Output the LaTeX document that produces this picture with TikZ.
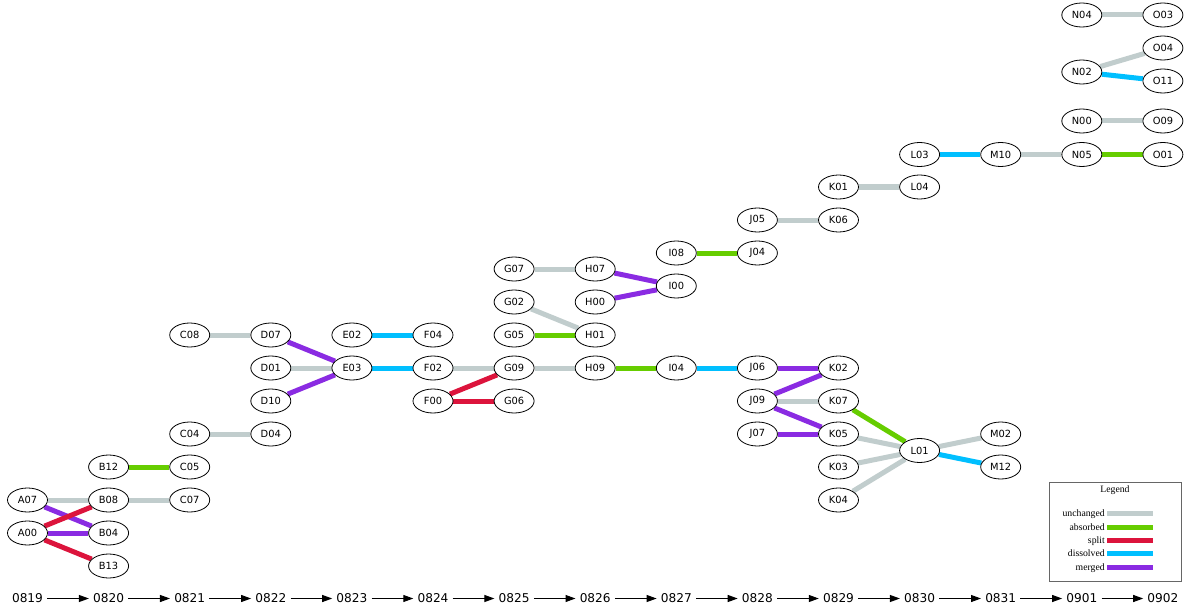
\documentclass[tikz,border=0pt]{standalone}
\usepackage{fontspec}
\setmainfont{DejaVu Sans}
\newfontfamily\legendfont{Liberation Serif}
\usepackage{tikz}
\usetikzlibrary{shapes.geometric}
\usetikzlibrary{arrows.meta}
\pgfdeclarelayer{nodelayer}
\pgfdeclarelayer{edgelayer}
\pgfsetlayers{edgelayer,nodelayer,main}
\definecolor{unchgray}{HTML}{C1CDCD}
\definecolor{absgreen}{HTML}{66CD00}
\definecolor{splitred}{HTML}{DC143C}
\definecolor{dissblue}{HTML}{00BFFF}
\definecolor{mergviolet}{HTML}{8A2BE2}
\tikzstyle{cluster}=[shape=ellipse, draw, fill=white, line width=0.6pt, inner sep=0pt, minimum width=30pt, minimum height=18pt, font=\fontsize{7.4}{8}\selectfont]
\tikzstyle{day}=[inner sep=3pt, font=\fontsize{9.1}{10}\selectfont]
\tikzstyle{keep}=[draw=unchgray, line width=3.75pt]
\tikzstyle{absorb}=[draw=absgreen, line width=3.75pt]
\tikzstyle{splitup}=[draw=splitred, line width=3.75pt]
\tikzstyle{dissolve}=[draw=dissblue, line width=3.75pt]
\tikzstyle{merge}=[draw=mergviolet, line width=3.75pt]
\tikzstyle{tick}=[line width=0.75pt, -{Triangle[length=7.5pt,width=5.25pt]}]
\tikzset{legendtext/.style={inner sep=0pt, anchor=base east, font=\legendfont\fontsize{7.3}{8}\selectfont}}

\begin{document}
\begin{tikzpicture}[x=0.75pt, y=-0.75pt]
	\useasboundingbox (0,0) rectangle (1188,613);
	\begin{pgfonlayer}{nodelayer}
		\node [style=cluster] (A07) at (27.5, 500) {A07};
		\node [style=cluster] (A00) at (27.5, 533) {A00};
		\node [style=cluster] (B12) at (108.6, 467) {B12};
		\node [style=cluster] (B08) at (108.6, 500) {B08};
		\node [style=cluster] (B04) at (108.6, 533) {B04};
		\node [style=cluster] (B13) at (108.6, 566) {B13};
		\node [style=cluster] (C08) at (189.7, 335) {C08};
		\node [style=cluster] (C04) at (189.7, 434) {C04};
		\node [style=cluster] (C05) at (189.7, 467) {C05};
		\node [style=cluster] (C07) at (189.7, 500) {C07};
		\node [style=cluster] (D07) at (270.8, 335) {D07};
		\node [style=cluster] (D01) at (270.8, 368) {D01};
		\node [style=cluster] (D10) at (270.8, 401) {D10};
		\node [style=cluster] (D04) at (270.8, 434) {D04};
		\node [style=cluster] (E02) at (351.9, 335) {E02};
		\node [style=cluster] (E03) at (351.9, 368) {E03};
		\node [style=cluster] (F04) at (433, 335) {F04};
		\node [style=cluster] (F02) at (433, 368) {F02};
		\node [style=cluster] (F00) at (433, 401) {F00};
		\node [style=cluster] (G07) at (514.1, 269) {G07};
		\node [style=cluster] (G02) at (514.1, 302) {G02};
		\node [style=cluster] (G05) at (514.1, 335) {G05};
		\node [style=cluster] (G09) at (514.1, 368) {G09};
		\node [style=cluster] (G06) at (514.1, 401) {G06};
		\node [style=cluster] (H07) at (595.2, 269) {H07};
		\node [style=cluster] (H00) at (595.2, 302) {H00};
		\node [style=cluster] (H01) at (595.2, 335) {H01};
		\node [style=cluster] (H09) at (595.2, 368) {H09};
		\node [style=cluster] (I08) at (676.3, 253) {I08};
		\node [style=cluster] (I00) at (676.3, 286) {I00};
		\node [style=cluster] (I04) at (676.3, 368) {I04};
		\node [style=cluster] (J05) at (757.4, 220) {J05};
		\node [style=cluster] (J04) at (757.4, 253) {J04};
		\node [style=cluster] (J06) at (757.4, 368) {J06};
		\node [style=cluster] (J09) at (757.4, 401) {J09};
		\node [style=cluster] (J07) at (757.4, 434) {J07};
		\node [style=cluster] (K01) at (838.5, 187) {K01};
		\node [style=cluster] (K06) at (838.5, 220) {K06};
		\node [style=cluster] (K02) at (838.5, 368) {K02};
		\node [style=cluster] (K07) at (838.5, 401) {K07};
		\node [style=cluster] (K05) at (838.5, 434) {K05};
		\node [style=cluster] (K03) at (838.5, 467) {K03};
		\node [style=cluster] (K04) at (838.5, 500) {K04};
		\node [style=cluster] (L03) at (919.6, 154.5) {L03};
		\node [style=cluster] (L04) at (919.6, 187) {L04};
		\node [style=cluster] (L01) at (919.6, 450.5) {L01};
		\node [style=cluster] (M10) at (1000.7, 154.5) {M10};
		\node [style=cluster] (M02) at (1000.7, 434) {M02};
		\node [style=cluster] (M12) at (1000.7, 467) {M12};
		\node [style=cluster] (N04) at (1081.8, 15) {N04};
		\node [style=cluster] (N02) at (1081.8, 72) {N02};
		\node [style=cluster] (N00) at (1081.8, 121) {N00};
		\node [style=cluster] (N05) at (1081.8, 154.5) {N05};
		\node [style=cluster] (O03) at (1162.9, 15) {O03};
		\node [style=cluster] (O04) at (1162.9, 48) {O04};
		\node [style=cluster] (O11) at (1162.9, 81) {O11};
		\node [style=cluster] (O09) at (1162.9, 121) {O09};
		\node [style=cluster] (O01) at (1162.9, 154.5) {O01};
		% time axis
		\node [style=day] (t0) at (27.5, 598.5) {0819};
		\node [style=day] (t1) at (108.6, 598.5) {0820};
		\node [style=day] (t2) at (189.7, 598.5) {0821};
		\node [style=day] (t3) at (270.8, 598.5) {0822};
		\node [style=day] (t4) at (351.9, 598.5) {0823};
		\node [style=day] (t5) at (433, 598.5) {0824};
		\node [style=day] (t6) at (514.1, 598.5) {0825};
		\node [style=day] (t7) at (595.2, 598.5) {0826};
		\node [style=day] (t8) at (676.3, 598.5) {0827};
		\node [style=day] (t9) at (757.4, 598.5) {0828};
		\node [style=day] (t10) at (838.5, 598.5) {0829};
		\node [style=day] (t11) at (919.6, 598.5) {0830};
		\node [style=day] (t12) at (1000.7, 598.5) {0831};
		\node [style=day] (t13) at (1081.8, 598.5) {0901};
		\node [style=day] (t14) at (1162.9, 598.5) {0902};
		% legend
		\node [draw=black!60, line width=0.75pt, minimum width=99pt, minimum height=74.25pt, inner sep=0pt] (legend) at (1115, 531.5) {};
		\node [font=\legendfont\fontsize{7.3}{8}\selectfont, inner sep=0pt] (legtitle) at (1115, 490.5) {Legend};
		\node [style=legendtext] (lg0) at (1105, 516) {unchanged};
		\node [style=legendtext] (lg1) at (1105, 530) {absorbed};
		\node [style=legendtext] (lg2) at (1105, 543.5) {split};
		\node [style=legendtext] (lg3) at (1105, 556.5) {dissolved};
		\node [style=legendtext] (lg4) at (1105, 570) {merged};
		\coordinate (sw0) at (1153, 513);
		\coordinate (sw1) at (1153, 527);
		\coordinate (sw2) at (1153, 540.5);
		\coordinate (sw3) at (1153, 553.5);
		\coordinate (sw4) at (1153, 567);
	\end{pgfonlayer}
	\begin{pgfonlayer}{edgelayer}
		\draw [style=keep] (A07) to (B08);
		\draw [style=merge] (A07) to (B04);
		\draw [style=splitup] (A00) to (B08);
		\draw [style=merge] (A00) to (B04);
		\draw [style=splitup] (A00) to (B13);
		\draw [style=keep] (B08) to (C07);
		\draw [style=absorb] (B12) to (C05);
		\draw [style=keep] (C04) to (D04);
		\draw [style=keep] (C08) to (D07);
		\draw [style=merge] (D07) to (E03);
		\draw [style=keep] (D01) to (E03);
		\draw [style=merge] (D10) to (E03);
		\draw [style=dissolve] (E02) to (F04);
		\draw [style=dissolve] (E03) to (F02);
		\draw [style=keep] (F02) to (G09);
		\draw [style=splitup] (F00) to (G09);
		\draw [style=splitup] (F00) to (G06);
		\draw [style=keep] (G07) to (H07);
		\draw [style=keep] (G02) to (H01);
		\draw [style=absorb] (G05) to (H01);
		\draw [style=keep] (G09) to (H09);
		\draw [style=merge] (H07) to (I00);
		\draw [style=merge] (H00) to (I00);
		\draw [style=absorb] (H09) to (I04);
		\draw [style=absorb] (I08) to (J04);
		\draw [style=dissolve] (I04) to (J06);
		\draw [style=keep] (J05) to (K06);
		\draw [style=merge] (J06) to (K02);
		\draw [style=merge] (J09) to (K02);
		\draw [style=keep] (J09) to (K07);
		\draw [style=merge] (J09) to (K05);
		\draw [style=merge] (J07) to (K05);
		\draw [style=keep] (K01) to (L04);
		\draw [style=absorb] (K07) to (L01);
		\draw [style=keep] (K05) to (L01);
		\draw [style=keep] (K03) to (L01);
		\draw [style=keep] (K04) to (L01);
		\draw [style=keep] (L01) to (M02);
		\draw [style=dissolve] (L01) to (M12);
		\draw [style=dissolve] (L03) to (M10);
		\draw [style=keep] (M10) to (N05);
		\draw [style=keep] (N04) to (O03);
		\draw [style=keep] (N02) to (O04);
		\draw [style=dissolve] (N02) to (O11);
		\draw [style=keep] (N00) to (O09);
		\draw [style=absorb] (N05) to (O01);
		\draw [style=tick] (t0) to (t1);
		\draw [style=tick] (t1) to (t2);
		\draw [style=tick] (t2) to (t3);
		\draw [style=tick] (t3) to (t4);
		\draw [style=tick] (t4) to (t5);
		\draw [style=tick] (t5) to (t6);
		\draw [style=tick] (t6) to (t7);
		\draw [style=tick] (t7) to (t8);
		\draw [style=tick] (t8) to (t9);
		\draw [style=tick] (t9) to (t10);
		\draw [style=tick] (t10) to (t11);
		\draw [style=tick] (t11) to (t12);
		\draw [style=tick] (t12) to (t13);
		\draw [style=tick] (t13) to (t14);
		\draw [style=keep] (1107, 513) to (sw0);
		\draw [style=absorb] (1107, 527) to (sw1);
		\draw [style=splitup] (1107, 540.5) to (sw2);
		\draw [style=dissolve] (1107, 553.5) to (sw3);
		\draw [style=merge] (1107, 567) to (sw4);
	\end{pgfonlayer}
\end{tikzpicture}
\end{document}
